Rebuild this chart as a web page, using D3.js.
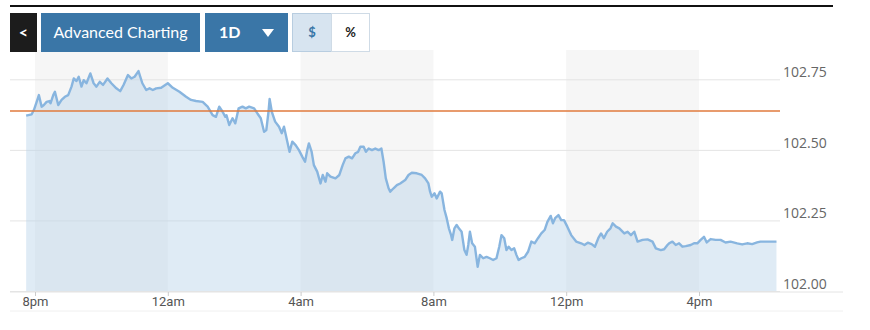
<!DOCTYPE html>
<html>
<head>
<meta charset="utf-8">
<script src="https://cdn.jsdelivr.net/npm/d3@7"></script>
<style>
  body { margin: 0; background: #fff; }
  #chart { width: 870px; height: 330px; }
</style>
</head>
<body>
<div id="chart"></div>
<script>

// minutes after 8pm
const minutes = [-16,-6,-2,3,7,12,16,21,26,28,33,36,42,48,54,60,66,70,75,79,84,88,93,100,106,111,117,123,131,138,147,154,160,168,174,180,187,194,201,
  207,213,219,228,240,249,261,273,282,291,303,312,321,327,333,339,344,346,351,357,362,368,375,381,387,396,402,408,414,418,422,424,428,434,441,
  446,450,456,460,465,471,477,483,488,492,495,500,504,510,516,520,525,528,534,543,550,556,561,567,573,579,584,588,594,598,603,609,615,621,626,630,634,639,642,648,654,660,669,
  675,681,690,699,705,711,714,717,722,726,732,735,740,744,748,752,754,758,762,766,771,776,780,783,786,790,795,800,804,810,816,822,828,834,839,843,848,852,856,861,866,870,874,879,885,891,
  897,903,909,915,921,926,932,936,940,946,951,956,962,969,978,987,993,999,1006,1012,1018,1023,1028,1034,1040,1044,1050,1056,1065,1071,1077,1083,1089,1098,1107,1116,1122,1131,1137,1143,
  1146,1152,1158,1164,1170,1176,1185,1191,1197,1203,1209,1214,1221,1230,1239,1248,1257,1269,1278,1287,1296,1305,1311,1323,1340];

const prices = [102.621,102.626,102.641,102.670,102.694,102.653,102.659,102.670,102.673,102.665,102.694,102.706,102.659,102.677,102.688,102.694,102.724,102.753,102.744,102.759,
  102.724,102.747,102.736,102.771,102.736,102.724,102.741,102.730,102.753,102.736,102.718,102.708,102.730,102.765,102.753,102.759,102.779,102.736,102.712,
  102.718,102.712,102.718,102.720,102.736,102.720,102.706,102.688,102.677,102.673,102.670,102.653,102.623,102.617,102.653,102.635,102.617,102.623,102.588,102.612,
  102.594,102.647,102.653,102.647,102.653,102.647,102.629,102.612,102.564,102.570,102.635,102.680,102.635,102.600,102.582,
  102.559,102.582,102.529,102.493,102.529,102.517,102.499,102.476,102.458,102.499,102.523,102.493,102.446,102.423,102.381,102.411,102.387,102.417,102.405,102.399,
  102.411,102.446,102.470,102.476,102.470,102.488,102.493,102.511,102.511,102.493,102.505,102.499,102.505,102.499,102.505,102.458,102.399,102.364,102.352,102.364,102.375,102.381,102.393,
  102.411,102.419,102.417,102.411,102.399,102.381,102.352,102.334,102.346,102.328,102.352,102.346,102.287,102.258,102.222,102.198,102.181,102.222,102.234,102.222,
  102.210,102.145,102.128,102.163,102.210,102.169,102.157,102.086,102.128,102.116,102.121,102.116,102.110,102.116,102.157,102.198,102.187,102.145,102.157,102.145,
  102.151,102.128,102.110,102.116,102.121,102.139,
  102.175,102.169,102.187,102.204,102.216,102.245,102.266,102.240,102.258,102.269,102.251,102.251,102.228,102.198,102.175,102.169,102.163,102.171,102.166,102.157,
  102.187,102.204,102.187,102.210,102.222,102.240,102.228,102.222,102.204,102.210,102.198,102.210,102.175,102.181,102.183,102.175,102.151,102.145,102.148,102.163,
  102.169,102.175,102.163,102.169,102.157,102.159,102.163,102.169,102.169,102.181,102.192,102.172,102.184,102.181,102.181,102.172,102.175,102.169,102.165,102.169,
  102.166,102.172,102.175,102.175,102.175];

const previousClose = 102.638;

const tickMinutes = [0, 240, 480, 720, 960, 1200];
const tickLabels = ["8pm", "12am", "4am", "8am", "12pm", "4pm"];
const priceTicks = [102.00, 102.25, 102.50, 102.75];
// shaded 4-hour sessions (start minute)
const bandStarts = [0, 480, 960];

const data = d3.zip(minutes, prices).map(([m, p]) => ({ m, p }));

const width = 870, height = 330;

const svg = d3.select("#chart")
  .append("svg")
  .attr("width", width)
  .attr("height", height)
  .attr("viewBox", `0 0 ${width} ${height}`);

const x = d3.scaleLinear().domain([0, 1200]).range([35, 699]);
const y = d3.scaleLinear().domain([102, 102.75]).range([291, 79.3]);

const gridLeft = 10, gridRight = 780, axisY = 292;

// top rule
svg.append("rect")
  .attr("x", 10).attr("y", 5).attr("width", 823).attr("height", 2)
  .attr("fill", "#111");

// session bands
svg.selectAll(".band")
  .data(bandStarts)
  .enter()
  .append("rect")
  .attr("class", "band")
  .attr("x", d => x(d))
  .attr("y", 50)
  .attr("width", d => x(d + 240) - x(d))
  .attr("height", axisY - 50)
  .attr("fill", "#f6f6f6");

// gridlines
svg.append("g")
  .attr("transform", `translate(${gridRight},0)`)
  .call(d3.axisLeft(y).tickValues(priceTicks).tickSize(gridRight - gridLeft).tickFormat(""))
  .call(g => g.select(".domain").remove())
  .call(g => g.selectAll("line").attr("stroke", "#e4e4e4"));

// area + line
const area = d3.area()
  .x(d => x(d.m))
  .y0(y(102))
  .y1(d => y(d.p));

const line = d3.line()
  .x(d => x(d.m))
  .y(d => y(d.p));

svg.append("path")
  .datum(data)
  .attr("d", area)
  .attr("fill", "#b9d2e8")
  .attr("fill-opacity", 0.45);

svg.append("path")
  .datum(data)
  .attr("d", line)
  .attr("fill", "none")
  .attr("stroke", "#88b5df")
  .attr("stroke-width", 2.4)
  .attr("stroke-linejoin", "round");

// previous close line
svg.append("line")
  .attr("x1", gridLeft).attr("x2", gridRight)
  .attr("y1", y(previousClose)).attr("y2", y(previousClose))
  .attr("stroke", "#e07a3c")
  .attr("stroke-width", 1.5);

// y labels
svg.append("g")
  .attr("transform", `translate(${gridRight},0)`)
  .call(d3.axisRight(y).tickValues(priceTicks).tickSize(0).tickFormat(d3.format(".2f")))
  .call(g => g.select(".domain").remove())
  .call(g => g.selectAll("text")
    .attr("x", 3)
    .attr("dy", "-0.2em")
    .style("font-family", "'Open Sans', sans-serif")
    .style("font-size", "14px")
    .style("fill", "#666"));

// x axis
svg.append("line")
  .attr("x1", 10).attr("x2", 843)
  .attr("y1", axisY).attr("y2", axisY)
  .attr("stroke", "#e4e4e4");

svg.append("line")
  .attr("x1", 10).attr("x2", 843)
  .attr("y1", 311).attr("y2", 311)
  .attr("stroke", "#f0f0f0");

svg.append("g")
  .attr("transform", `translate(0,${axisY})`)
  .call(d3.axisBottom(x).tickValues(tickMinutes).tickSize(4).tickFormat((d, i) => tickLabels[i]))
  .call(g => g.select(".domain").remove())
  .call(g => g.selectAll("line").attr("stroke", "#ccc"))
  .call(g => g.selectAll("text")
    .attr("y", 5)
    .style("font-family", "'Liberation Sans Narrow', 'Roboto', sans-serif")
    .style("font-size", "13px")
    .style("fill", "#555"));

// toolbar buttons
const btnY = 13, btnH = 39;
const bar = svg.append("g").style("font-family", "Lato, sans-serif");

bar.append("rect").attr("x", 10).attr("y", btnY).attr("width", 27).attr("height", btnH).attr("fill", "#1c1c1c");
bar.append("text").attr("x", 23.5).attr("y", btnY + 25).attr("text-anchor", "middle")
  .attr("fill", "#fff").style("font-size", "16px").style("font-weight", "bold").text("<");

bar.append("rect").attr("x", 41).attr("y", btnY).attr("width", 159).attr("height", btnH).attr("fill", "#3a76a7");
bar.append("text").attr("x", 120.5).attr("y", btnY + 25).attr("text-anchor", "middle")
  .attr("fill", "#fff").style("font-size", "16px").text("Advanced Charting");

bar.append("rect").attr("x", 205).attr("y", btnY).attr("width", 83).attr("height", btnH).attr("fill", "#3a76a7");
bar.append("text").attr("x", 219).attr("y", btnY + 25)
  .attr("fill", "#fff").style("font-size", "16px").style("font-weight", "bold").text("1D");
bar.append("path").attr("d", `M262,${btnY + 16}L274,${btnY + 16}L268,${btnY + 24}Z`).attr("fill", "#fff");

bar.append("rect").attr("x", 292.5).attr("y", btnY + 0.5).attr("width", 39).attr("height", btnH - 1)
  .attr("fill", "#d7e4f0").attr("stroke", "#b8cde0");
bar.append("text").attr("x", 312).attr("y", btnY + 24).attr("text-anchor", "middle")
  .attr("fill", "#3a76a7").style("font-size", "13px").style("font-weight", "bold").text("$");

bar.append("rect").attr("x", 331.5).attr("y", btnY + 0.5).attr("width", 38).attr("height", btnH - 1)
  .attr("fill", "#fff").attr("stroke", "#cfdbe6");
bar.append("text").attr("x", 350.5).attr("y", btnY + 24).attr("text-anchor", "middle")
  .attr("fill", "#222").style("font-size", "13px").style("font-weight", "bold").text("%");
</script>
</body>
</html>
